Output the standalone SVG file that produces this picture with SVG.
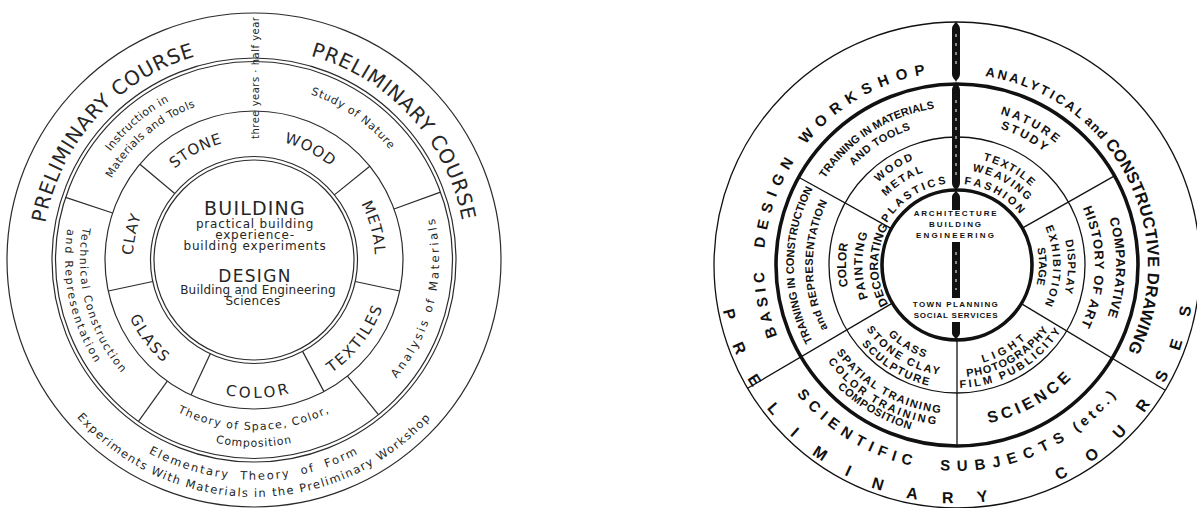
<svg xmlns="http://www.w3.org/2000/svg" width="1197" height="508" viewBox="0 0 1197 508">
<style>
.lc{fill:none;stroke:#2b2b2b;stroke-width:1.2}
.lt{font-family:"DejaVu Sans","Liberation Sans",sans-serif;fill:#262626}
.rc{fill:none;stroke:#111;stroke-width:1.3}
.rk{fill:none;stroke:#111;stroke-width:3.6}
.rt{font-family:"Liberation Sans",Arial,sans-serif;font-weight:bold;fill:#111}
.sp{fill:#111}
.wm{stroke:#fff;stroke-width:1;stroke-dasharray:3 6;fill:none}
</style>
<defs>
<path id="lp1" d="M141.7,439.8 A212,212 0 1 1 421.1,129.5"/>
<path id="lp2" d="M85.8,130.9 A212,212 0 1 1 367.9,438.8"/>
<path id="lp3" d="M37.3,221.8 A220,220 0 1 0 470.7,221.8"/>
<path id="lp4" d="M20.6,218.8 A237,237 0 1 0 487.4,218.8"/>
<path id="lp5" d="M139.5,398.9 A180,180 0 1 1 409.1,168.6"/>
<path id="lp6" d="M149.7,386.5 A164,164 0 1 1 395.3,176.8"/>
<path id="lp7" d="M95.4,186.0 A175,175 0 1 1 377.7,383.7"/>
<path id="lp8" d="M181.7,430.3 A185,185 0 1 0 263.7,75.3"/>
<path id="lp9" d="M86.6,230.5 A170,170 0 1 0 421.4,230.5"/>
<path id="lp10" d="M69.8,227.5 A187,187 0 1 0 438.2,227.5"/>
<path id="lp11" d="M238.8,86.7 A174,174 0 1 0 327.5,417.7"/>
<path id="lp12" d="M247.4,71.1 A189,189 0 1 0 324.8,435.2"/>
<path id="lp13" d="M158.7,334.5 A121,121 0 1 1 369.1,222.6"/>
<path id="lp14" d="M138.3,224.6 A121,121 0 1 1 350.6,332.8"/>
<path id="lp15" d="M202.9,150.3 A121,121 0 1 1 264.6,380.5"/>
<path id="lp16" d="M152.8,352.4 A137,137 0 1 0 317.5,138.6"/>
<path id="lp17" d="M117.3,240.8 A138,138 0 1 0 389.0,231.3"/>
<path id="lp18" d="M191.8,137.9 A137,137 0 1 0 354.2,353.4"/>
<path id="lp19" d="M249.8,380.9 A121,121 0 1 1 299.3,147.8"/>
<path id="rp1" d="M892.9,447.0 A193,193 0 1 1 1079.5,115.9"/>
<path id="rp2" d="M839.4,114.5 A191,191 0 1 1 1016.0,446.7"/>
<path id="rp3" d="M722.6,223.7 A238,238 0 1 0 1191.4,223.7"/>
<path id="rp4" d="M754.1,229.2 A206,206 0 1 0 1159.9,229.2"/>
<path id="rp5" d="M840.5,371.7 A158,158 0 1 1 1103.0,204.5"/>
<path id="rp6" d="M851.6,361.6 A143,143 0 1 1 1089.1,210.3"/>
<path id="rp7" d="M807.7,216.5 A157,157 0 1 1 1080.7,361.7"/>
<path id="rp8" d="M821.0,220.8 A143,143 0 1 1 1069.7,353.0"/>
<path id="rp9" d="M932.1,108.0 A159,159 0 1 1 926.7,421.1"/>
<path id="rp10" d="M935.4,128.7 A138,138 0 1 1 930.7,400.5"/>
<path id="rp11" d="M804.8,317.4 A161,161 0 1 0 1082.1,163.7"/>
<path id="rp12" d="M842.9,169.2 A149,149 0 1 0 1097.0,316.0"/>
<path id="rp13" d="M833.7,161.5 A161,161 0 1 0 1108.3,320.1"/>
<path id="rp14" d="M826.0,155.1 A171,171 0 1 0 1117.7,323.5"/>
<path id="rp15" d="M985.3,425.5 A163,163 0 1 1 985.3,104.5"/>
<path id="rp16" d="M982.0,406.8 A144,144 0 1 1 982.0,123.2"/>
<path id="rp17" d="M872.9,342.0 A114,114 0 1 1 1062.3,221.4"/>
<path id="rp18" d="M884.4,331.5 A98.5,98.5 0 1 1 1048.0,227.3"/>
<path id="rp19" d="M896.5,320.4 A82,82 0 1 1 1032.8,233.6"/>
<path id="rp20" d="M854.9,229.8 A108,108 0 1 1 1040.9,333.0"/>
<path id="rp21" d="M867.2,234.1 A95,95 0 1 1 1030.8,324.8"/>
<path id="rp22" d="M880.4,238.6 A81,81 0 1 1 1019.9,316.0"/>
<path id="rp23" d="M939.6,155.4 A111,111 0 1 1 935.8,374.0"/>
<path id="rp24" d="M942.0,170.2 A96,96 0 1 1 938.7,359.2"/>
<path id="rp25" d="M944.2,184.0 A82,82 0 1 1 941.4,345.5"/>
<path id="rp26" d="M862.1,299.5 A101,101 0 1 0 1034.4,200.1"/>
<path id="rp27" d="M851.8,303.3 A112,112 0 1 0 1042.8,193.0"/>
<path id="rp28" d="M841.4,307.1 A123,123 0 1 0 1051.2,185.9"/>
<path id="rp29" d="M883.6,200.1 A98,98 0 1 0 1048.2,300.9"/>
<path id="rp30" d="M873.9,191.5 A111,111 0 1 0 1060.3,305.7"/>
<path id="rp31" d="M864.1,182.8 A124,124 0 1 0 1072.4,310.4"/>
<path id="rp32" d="M976.3,374.3 A111,111 0 1 1 976.3,155.7"/>
<path id="rp33" d="M973.5,358.6 A95,95 0 1 1 973.5,171.4"/>
<path id="rp34" d="M970.7,342.8 A79,79 0 1 1 970.7,187.2"/>
</defs>
<rect width="1197" height="508" fill="#fff"/>

<g id="left-wheel">
 <g id="left-rings">
  <circle class="lc" cx="254" cy="260" r="247"/>
  <circle class="lc" cx="254" cy="260" r="202"/>
  <circle class="lc" cx="254" cy="260" r="198.5"/>
  <circle class="lc" cx="254" cy="260" r="149"/>
  <circle class="lc" cx="254" cy="260" r="103.5"/>
  <circle class="lc" cx="254" cy="260" r="100"/>
 </g>
 <g id="left-dividers" class="lc">
  <line x1="112.6" y1="213.0" x2="65.6" y2="197.4"/>
  <line x1="394.0" y1="209.0" x2="440.5" y2="192.1"/>
  <line x1="167.3" y1="381.2" x2="138.5" y2="421.4"/>
  <line x1="347.4" y1="376.1" x2="378.4" y2="414.7"/>
  <line x1="174.7" y1="193.5" x2="139.9" y2="164.2"/>
  <line x1="334.4" y1="194.9" x2="369.8" y2="166.2"/>
  <line x1="355.2" y1="281.5" x2="399.7" y2="291.0"/>
  <line x1="302.6" y1="351.4" x2="324.0" y2="391.6"/>
  <line x1="210.3" y1="353.8" x2="191.0" y2="395.0"/>
  <line x1="152.8" y1="281.5" x2="108.3" y2="291.0"/>
 </g>
 <g id="left-outer-ring">
  <text class="lt" font-size="20" letter-spacing="0.8"><textPath href="#lp1" startOffset="50%" text-anchor="middle">PRELIMINARY COURSE</textPath></text>
  <text class="lt" font-size="20" letter-spacing="0.8"><textPath href="#lp2" startOffset="50%" text-anchor="middle">PRELIMINARY COURSE</textPath></text>
  <text class="lt" font-size="11.5" letter-spacing="1.9" word-spacing="5"><textPath href="#lp3" startOffset="50%" text-anchor="middle">Elementary Theory of Form</textPath></text>
  <text class="lt" font-size="11.5" letter-spacing="1.4"><textPath href="#lp4" startOffset="50%" text-anchor="middle">Experiments With Materials in the Preliminary Workshop</textPath></text>
 </g>
 <g id="left-middle-ring">
  <text class="lt" font-size="11" letter-spacing="0.4"><textPath href="#lp5" startOffset="50%" text-anchor="middle">Instruction in</textPath></text>
  <text class="lt" font-size="11" letter-spacing="0.4"><textPath href="#lp6" startOffset="50%" text-anchor="middle">Materials and Tools</textPath></text>
  <text class="lt" font-size="11" letter-spacing="0.8"><textPath href="#lp7" startOffset="50%" text-anchor="middle">Study of Nature</textPath></text>
  <text class="lt" font-size="11.5" letter-spacing="2.6"><textPath href="#lp8" startOffset="50%" text-anchor="middle">Analysis of Materials</textPath></text>
  <text class="lt" font-size="11" letter-spacing="1.3"><textPath href="#lp9" startOffset="50%" text-anchor="middle">Theory of Space, Color,</textPath></text>
  <text class="lt" font-size="11" letter-spacing="0.8"><textPath href="#lp10" startOffset="50%" text-anchor="middle">Composition</textPath></text>
  <text class="lt" font-size="11" letter-spacing="1.5"><textPath href="#lp11" startOffset="50%" text-anchor="middle">Technical Construction</textPath></text>
  <text class="lt" font-size="11" letter-spacing="1.9"><textPath href="#lp12" startOffset="50%" text-anchor="middle">and Representation</textPath></text>
  <text class="lt" font-size="10" letter-spacing="0.5" transform="translate(259,139) rotate(-90)">three years · half year</text>
 </g>
 <g id="left-materials-ring">
  <text class="lt" font-size="15" letter-spacing="0.8"><textPath href="#lp13" startOffset="50%" text-anchor="middle">STONE</textPath></text>
  <text class="lt" font-size="15" letter-spacing="1"><textPath href="#lp14" startOffset="50%" text-anchor="middle">WOOD</textPath></text>
  <text class="lt" font-size="15" letter-spacing="1"><textPath href="#lp15" startOffset="50%" text-anchor="middle">METAL</textPath></text>
  <text class="lt" font-size="15" letter-spacing="2"><textPath href="#lp16" startOffset="50%" text-anchor="middle">TEXTILES</textPath></text>
  <text class="lt" font-size="15" letter-spacing="3"><textPath href="#lp17" startOffset="50%" text-anchor="middle">COLOR</textPath></text>
  <text class="lt" font-size="15" letter-spacing="1.7"><textPath href="#lp18" startOffset="50%" text-anchor="middle">GLASS</textPath></text>
  <text class="lt" font-size="15" letter-spacing="1"><textPath href="#lp19" startOffset="50%" text-anchor="middle">CLAY</textPath></text>
 </g>
 <g id="left-center" text-anchor="middle">
  <text class="lt" x="255" y="215" font-size="19" letter-spacing="1.2">BUILDING</text>
  <text class="lt" x="255" y="228" font-size="12" letter-spacing="0.8">practical building</text>
  <text class="lt" x="255" y="239" font-size="12" letter-spacing="0.8">experience-</text>
  <text class="lt" x="255" y="250" font-size="12" letter-spacing="0.8">building experiments</text>
  <text class="lt" x="255" y="282" font-size="17" letter-spacing="1.3">DESIGN</text>
  <text class="lt" x="258" y="294" font-size="12" letter-spacing="0.2">Building and Engineering</text>
  <text class="lt" x="253" y="305" font-size="12" letter-spacing="0.3">Sciences</text>
 </g>
</g>

<g id="right-wheel">
 <g id="right-rings">
  <circle class="rc" cx="957" cy="265" r="243"/>
  <circle class="rk" cx="957" cy="265" r="181"/>
  <circle class="rc" cx="957" cy="265" r="128"/>
  <circle class="rk" cx="957" cy="265" r="75"/>
 </g>
 <g id="right-dividers" class="rc">
  <line x1="891.4" y1="228.6" x2="798.7" y2="177.3"/>
  <line x1="1022.3" y1="228.1" x2="1114.5" y2="175.9"/>
  <line x1="1021.3" y1="303.6" x2="1165.3" y2="390.2"/>
  <line x1="892.4" y1="303.1" x2="747.6" y2="388.3"/>
  <line x1="957" y1="338" x2="957" y2="446"/>
 </g>
 <g id="right-axis">
  <path class="sp" d="M956,21 C957,24 960,25 960,29 L960,74 C960,78 957,79 956,82 C955,79 952,78 952,74 L952,29 C952,25 955,24 956,21 Z"/>
  <path class="sp" d="M956,82 C957,85 960,86 960,90 L960,183 C960,187 957,188 956,191 C955,188 952,187 952,183 L952,90 C952,86 955,85 956,82 Z"/>
  <path class="sp" d="M956,190 C957,193 960,194 960,197 L960,210 L952,210 L952,197 C952,194 955,193 956,190 Z"/>
  <rect class="sp" x="952" y="242" width="8" height="56"/>
  <path class="sp" d="M952,322 L960,322 L960,333 C960,336 957,337 956,340 C955,337 952,336 952,333 Z"/>
  <line class="wm" x1="956" y1="34" x2="956" y2="68"/>
  <line class="wm" x1="956" y1="100" x2="956" y2="176"/>
  <line class="wm" x1="956" y1="252" x2="956" y2="290"/>
 </g>
 <g id="right-outer-ring">
  <text class="rt"><textPath href="#rp1" startOffset="200.3" text-anchor="middle" font-size="15" letter-spacing="4.7">BASIC</textPath> <textPath href="#rp1" startOffset="304.3" text-anchor="middle" font-size="15" letter-spacing="7">DESIGN</textPath> <textPath href="#rp1" startOffset="442.2" text-anchor="middle" font-size="15" letter-spacing="7.4">WORKSHOP</textPath></text>
  <text class="rt"><textPath href="#rp2" startOffset="208.7" text-anchor="middle" font-size="13" letter-spacing="2.6">ANALYTICAL</textPath> <textPath href="#rp2" startOffset="278" text-anchor="middle" font-size="13" letter-spacing="1">and</textPath> <textPath href="#rp2" startOffset="405.5" text-anchor="middle" font-size="16.5" letter-spacing="0.3">CONSTRUCTIVE DRAWING</textPath></text>
  <text class="rt"><textPath href="#rp3" startOffset="279.4" text-anchor="middle" font-size="16" letter-spacing="25">PRELIMINARY</textPath> <textPath href="#rp3" startOffset="645.6" text-anchor="middle" font-size="16" letter-spacing="24.6">COURSES</textPath></text>
  <text class="rt"><textPath href="#rp4" startOffset="247.1" text-anchor="middle" font-size="15" letter-spacing="6">SCIENTIFIC</textPath> <textPath href="#rp4" startOffset="411.3" text-anchor="middle" font-size="15" letter-spacing="7.3">SUBJECTS</textPath> <textPath href="#rp4" startOffset="516.1" text-anchor="middle" font-size="14" letter-spacing="4">(etc.)</textPath></text>
 </g>
 <g id="right-middle-ring" class="rt" font-size="11">
  <text letter-spacing="0"><textPath href="#rp5" startOffset="50%" text-anchor="middle">TRAINING IN MATERIALS</textPath></text>
  <text letter-spacing="0.5"><textPath href="#rp6" startOffset="50%" text-anchor="middle">AND TOOLS</textPath></text>
  <text font-size="12" letter-spacing="2.8"><textPath href="#rp7" startOffset="50%" text-anchor="middle">NATURE</textPath></text>
  <text font-size="12" letter-spacing="2.3"><textPath href="#rp8" startOffset="50%" text-anchor="middle">STUDY</textPath></text>
  <text font-size="13" letter-spacing="0.5"><textPath href="#rp9" startOffset="50%" text-anchor="middle">COMPARATIVE</textPath></text>
  <text font-size="13" letter-spacing="1"><textPath href="#rp10" startOffset="50%" text-anchor="middle">HISTORY OF ART</textPath></text>
  <text font-size="16" letter-spacing="4"><textPath href="#rp11" startOffset="50%" text-anchor="middle">SCIENCE</textPath></text>
  <text letter-spacing="1.5"><textPath href="#rp12" startOffset="50%" text-anchor="middle">SPATIAL TRAINING</textPath></text>
  <text letter-spacing="2.5"><textPath href="#rp13" startOffset="50%" text-anchor="middle">COLOR TRAINING</textPath></text>
  <text letter-spacing="0.7"><textPath href="#rp14" startOffset="50%" text-anchor="middle">COMPOSITION</textPath></text>
  <text letter-spacing="0"><textPath href="#rp15" startOffset="50%" text-anchor="middle">TRAINING IN CONSTRUCTION</textPath></text>
  <text letter-spacing="0.5"><textPath href="#rp16" startOffset="50%" text-anchor="middle">and REPRESENTATION</textPath></text>
 </g>
 <g id="right-inner-ring" class="rt" font-size="11">
  <text letter-spacing="2.2"><textPath href="#rp17" startOffset="50%" text-anchor="middle">WOOD</textPath></text>
  <text letter-spacing="2"><textPath href="#rp18" startOffset="50%" text-anchor="middle">METAL</textPath></text>
  <text letter-spacing="2.7"><textPath href="#rp19" startOffset="50%" text-anchor="middle">PLASTICS</textPath></text>
  <text letter-spacing="1.7"><textPath href="#rp20" startOffset="50%" text-anchor="middle">TEXTILE</textPath></text>
  <text letter-spacing="2"><textPath href="#rp21" startOffset="50%" text-anchor="middle">WEAVING</textPath></text>
  <text letter-spacing="2.7"><textPath href="#rp22" startOffset="50%" text-anchor="middle">FASHION</textPath></text>
  <text letter-spacing="1"><textPath href="#rp23" startOffset="50%" text-anchor="middle">DISPLAY</textPath></text>
  <text letter-spacing="1.9"><textPath href="#rp24" startOffset="50%" text-anchor="middle">EXHIBITION</textPath></text>
  <text letter-spacing="0"><textPath href="#rp25" startOffset="50%" text-anchor="middle">STAGE</textPath></text>
  <text letter-spacing="4"><textPath href="#rp26" startOffset="50%" text-anchor="middle">LIGHT</textPath></text>
  <text letter-spacing="1.1"><textPath href="#rp27" startOffset="50%" text-anchor="middle">PHOTOGRAPHY</textPath></text>
  <text letter-spacing="2.6"><textPath href="#rp28" startOffset="50%" text-anchor="middle">FILM PUBLICITY</textPath></text>
  <text letter-spacing="1.5"><textPath href="#rp29" startOffset="50%" text-anchor="middle">GLASS</textPath></text>
  <text letter-spacing="2"><textPath href="#rp30" startOffset="50%" text-anchor="middle">STONE CLAY</textPath></text>
  <text letter-spacing="1.6"><textPath href="#rp31" startOffset="50%" text-anchor="middle">SCULPTURE</textPath></text>
  <text font-size="12" letter-spacing="0"><textPath href="#rp32" startOffset="50%" text-anchor="middle">COLOR</textPath></text>
  <text font-size="12" letter-spacing="1.4"><textPath href="#rp33" startOffset="50%" text-anchor="middle">PAINTING</textPath></text>
  <text font-size="12" letter-spacing="0.25"><textPath href="#rp34" startOffset="50%" text-anchor="middle">DECORATING</textPath></text>
 </g>
 <g id="right-center" class="rt" font-size="8" text-anchor="middle">
  <text x="956" y="216" letter-spacing="1.8">ARCHITECTURE</text>
  <text x="956" y="227" letter-spacing="1.9">BUILDING</text>
  <text x="956" y="238" letter-spacing="2.2">ENGINEERING</text>
  <text x="956" y="307" letter-spacing="1.4">TOWN PLANNING</text>
  <text x="956" y="318" letter-spacing="0.8">SOCIAL SERVICES</text>
 </g>
</g>
</svg>
